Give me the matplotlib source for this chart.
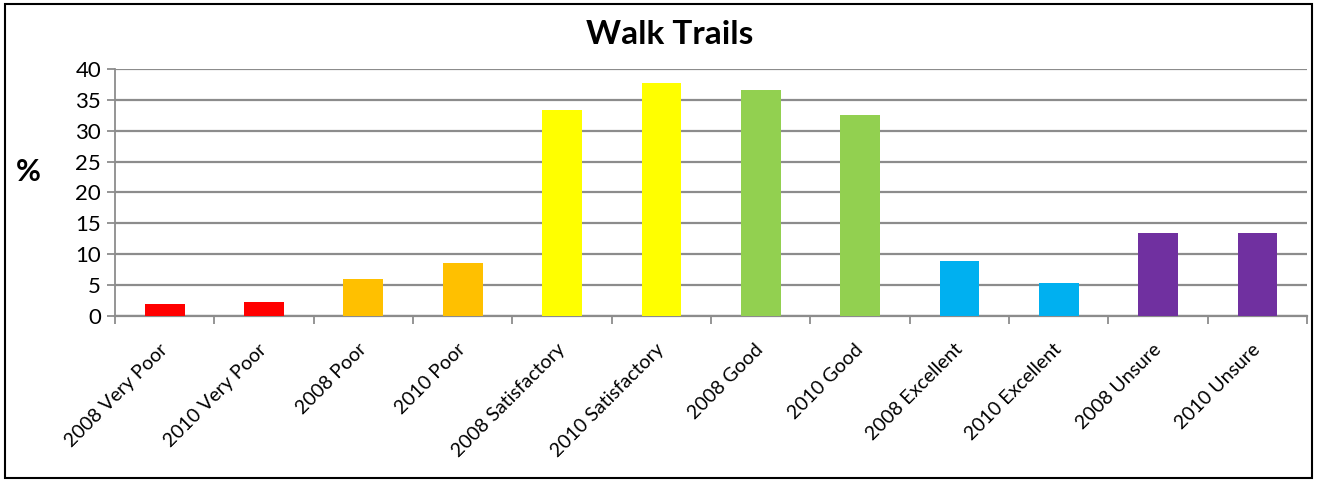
import matplotlib
matplotlib.use("Agg")
import matplotlib.pyplot as plt
from matplotlib.patches import Rectangle

# data
categories = ["2008 Very Poor", "2010 Very Poor", "2008 Poor", "2010 Poor",
              "2008 Satisfactory", "2010 Satisfactory", "2008 Good", "2010 Good",
              "2008 Excellent", "2010 Excellent", "2008 Unsure", "2010 Unsure"]
values = [2.0, 2.3, 6.0, 8.6, 33.3, 37.7, 36.6, 32.5, 8.9, 5.4, 13.5, 13.4]
colors = ["#FF0000", "#FF0000", "#FFC000", "#FFC000", "#FFFF00", "#FFFF00",
          "#92D050", "#92D050", "#00B0F0", "#00B0F0", "#7030A0", "#7030A0"]

plt.rcParams["font.family"] = ["Lato", "DejaVu Sans"]

fig = plt.figure(figsize=(13.17, 4.82), dpi=100)
ax = fig.add_axes([0.0873, 0.3438, 0.9052, 0.5137])

x = range(len(categories))
ax.bar(x, values, width=0.4, color=colors, zorder=3)

grid_col = "#8C8C8C"
ax.set_ylim(0, 40)
ax.set_xlim(-0.5, len(categories) - 0.5)
ax.set_yticks(range(0, 41, 5))
ax.yaxis.grid(True, color=grid_col, linewidth=1.6, zorder=0)

# ticks between categories, labels under centres
ax.set_xticks(x)
ax.set_xticklabels(categories, rotation=45, ha="right", va="center",
                   rotation_mode="anchor", fontsize=14)
ax.tick_params(axis="x", which="major", length=0, pad=22)
ax.set_xticks([i - 0.5 for i in range(len(categories) + 1)], minor=True)
ax.tick_params(axis="x", which="minor", length=6, width=1.3, color=grid_col)
ax.tick_params(axis="y", length=6, width=1.3, color=grid_col, labelsize=16, pad=4)

for side in ["top", "right"]:
    ax.spines[side].set_visible(False)
ax.spines["left"].set_color(grid_col)
ax.spines["left"].set_linewidth(1.3)
ax.spines["bottom"].set_color(grid_col)
ax.spines["bottom"].set_linewidth(1.6)

fig.text(670 / 1317, 1 - 35 / 482, "Walk Trails", fontsize=24, fontweight="bold",
         ha="center", va="center")
fig.text(28 / 1317, 1 - 172 / 482, "%", fontsize=22, fontweight="bold",
         ha="center", va="center")

# outer chart border
fig.patches.append(Rectangle((5 / 1317, 4 / 482), 1307 / 1317, 474 / 482,
                             transform=fig.transFigure, fill=False,
                             edgecolor="black", linewidth=1.5))

fig.savefig("out.png", dpi=100)
